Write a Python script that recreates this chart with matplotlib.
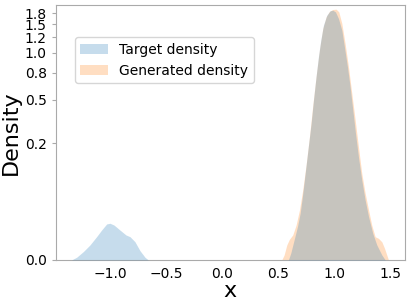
import numpy as np
import matplotlib
matplotlib.use("Agg")
import matplotlib.pyplot as plt
from matplotlib.ticker import FormatStrFormatter, FuncFormatter

# density curves (x, density)
target_x = [-1.345, -1.300, -1.241, -1.181, -1.122, -1.077, -1.032, -1.003, -0.967,
            -0.914, -0.860, -0.824, -0.780, -0.735, -0.690, -0.661,
            0.589, 0.610, 0.640, 0.670, 0.694, 0.714, 0.732, 0.753, 0.774, 0.792,
            0.813, 0.836, 0.857, 0.878, 0.902, 0.932, 0.961, 0.985, 1.009, 1.036,
            1.066, 1.089, 1.116, 1.140, 1.164, 1.188, 1.214, 1.244, 1.274, 1.304,
            1.342, 1.378, 1.423, 1.453]
target_y = [0.0, 0.0024, 0.0077, 0.0146, 0.0240, 0.0324, 0.0407, 0.0417, 0.0392,
            0.0324, 0.0261, 0.0240, 0.0182, 0.0087, 0.0024, 0.0,
            0.0, 0.0061, 0.0201, 0.0369, 0.0570, 0.0878, 0.1263, 0.1856, 0.2633, 0.346,
            0.498, 0.707, 0.946, 1.200, 1.485, 1.708, 1.815, 1.832, 1.789, 1.630,
            1.383, 1.091, 0.818, 0.609, 0.427, 0.294, 0.197, 0.126, 0.081, 0.052,
            0.028, 0.0146, 0.0045, 0.0]

gen_x = [0.530, 0.551, 0.575, 0.598, 0.628, 0.658, 0.688, 0.717, 0.747, 0.777,
         0.807, 0.836, 0.866, 0.896, 0.926, 0.955, 0.985, 1.015, 1.039, 1.066,
         1.095, 1.125, 1.155, 1.185, 1.214, 1.244, 1.274, 1.304, 1.333, 1.363,
         1.393, 1.423, 1.447, 1.467, 1.482]
gen_y = [0.0, 0.0045, 0.0146, 0.0209, 0.0261, 0.0392, 0.0626, 0.1022, 0.1693, 0.278,
         0.461, 0.707, 1.041, 1.416, 1.668, 1.800, 1.849, 1.858, 1.789, 1.520,
         1.145, 0.818, 0.551, 0.365, 0.235, 0.144, 0.095, 0.063, 0.039, 0.024,
         0.022, 0.018, 0.011, 0.0045, 0.0]

y_ticks = [0, 0.25, 0.5, 0.75, 1.0, 1.25, 1.5, 1.75]
x_ticks = [-1.0, -0.5, 0.0, 0.5, 1.0, 1.5]

c = 0.065
fwd = lambda y: np.log1p(np.maximum(y, 0) / c)
inv = lambda t: c * np.expm1(t)

spine_col = '#aaaaaa'

fig = plt.figure(figsize=(4.11, 3.08), dpi=100)
ax = fig.add_axes([0.136, 0.156, 0.849, 0.829])

# generated underneath, target on top -> grey overlap
ax.fill_between(gen_x, 0, gen_y, color='C1', alpha=0.25, linewidth=0,
                label='Generated density', zorder=2)
ax.fill_between(target_x, 0, target_y, color='C0', alpha=0.25, linewidth=0,
                label='Target density', zorder=3)

ax.set_yscale('function', functions=(fwd, inv))
ax.set_ylim(0, 1.98)
ax.set_xlim(-1.485, 1.628)
ax.set_yticks(y_ticks)
ax.yaxis.set_major_formatter(FormatStrFormatter('%.1f'))
ax.yaxis.set_minor_locator(plt.NullLocator())
ax.set_xticks(x_ticks)
ax.xaxis.set_major_formatter(FuncFormatter(lambda v, p: ('%.1f' % v).replace('-', '\u2212')))

ax.tick_params(labelsize=10, length=3, color=spine_col)
ax.tick_params(axis='x', length=0, pad=5)
for s in ax.spines.values():
    s.set_color(spine_col)

ax.set_xlabel('x', fontsize=16, labelpad=0)
ax.set_ylabel('Density', fontsize=16, labelpad=3)

h, l = ax.get_legend_handles_labels()
ax.legend(h[::-1], l[::-1], loc='upper left', bbox_to_anchor=(0.054, 0.873),
          borderaxespad=0, fontsize=10, framealpha=0.8)

fig.savefig('out.png', dpi=100)
